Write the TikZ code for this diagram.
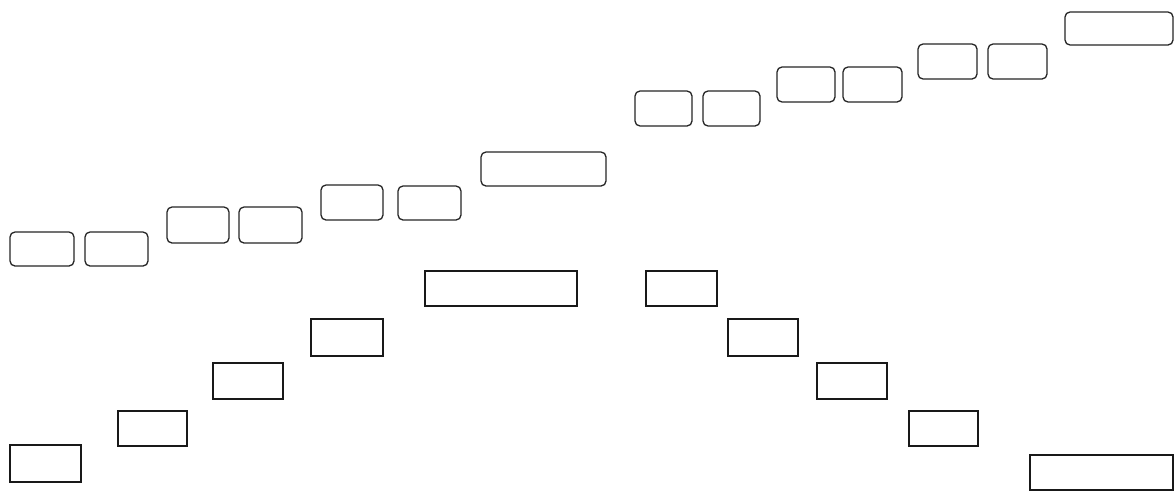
\documentclass[tikz,border=0pt]{standalone}
\begin{document}
\begin{tikzpicture}[x=1pt,y=-1pt,
  rbox/.style={draw=black!85,line width=1.3pt,rounded corners=5pt,inner sep=0pt,outer sep=0pt},
  sbox/.style={draw=black!90,line width=1.7pt,inner sep=0pt,outer sep=0pt}]
\useasboundingbox[fill=white] (0,0) rectangle (1175,491);
\clip (0,0) rectangle (1175,491);
% rounded boxes (upper staircase)
\node[rbox,minimum width=64pt,minimum height=34pt] (b1) at (42,249) {};
\node[rbox,minimum width=63pt,minimum height=34pt] (b2) at (116.5,249) {};
\node[rbox,minimum width=62pt,minimum height=36pt] (b3) at (198,225) {};
\node[rbox,minimum width=63pt,minimum height=36pt] (b4) at (270.5,225) {};
\node[rbox,minimum width=62pt,minimum height=35pt] (b5) at (352,202.5) {};
\node[rbox,minimum width=63pt,minimum height=34pt] (b6) at (429.5,203) {};
\node[rbox,minimum width=125pt,minimum height=34pt] (b7) at (543.5,169) {};
\node[rbox,minimum width=57pt,minimum height=35pt] (b8) at (663.5,108.5) {};
\node[rbox,minimum width=57pt,minimum height=35pt] (b9) at (731.5,108.5) {};
\node[rbox,minimum width=58pt,minimum height=35pt] (b10) at (806,84.5) {};
\node[rbox,minimum width=59pt,minimum height=35pt] (b11) at (872.5,84.5) {};
\node[rbox,minimum width=59pt,minimum height=35pt] (b12) at (947.5,61.5) {};
\node[rbox,minimum width=59pt,minimum height=35pt] (b13) at (1017.5,61.5) {};
\node[rbox,minimum width=108pt,minimum height=33pt] (b14) at (1119,28.5) {};
% sharp boxes (lower arch)
\node[sbox,minimum width=71pt,minimum height=37pt] (r1) at (45.5,463.5) {};
\node[sbox,minimum width=69pt,minimum height=35pt] (r2) at (152.5,428.5) {};
\node[sbox,minimum width=70pt,minimum height=36pt] (r3) at (248,381) {};
\node[sbox,minimum width=72pt,minimum height=37pt] (r4) at (347,337.5) {};
\node[sbox,minimum width=152pt,minimum height=35pt] (r5) at (501,288.5) {};
\node[sbox,minimum width=71pt,minimum height=35pt] (r6) at (681.5,288.5) {};
\node[sbox,minimum width=70pt,minimum height=37pt] (r7) at (763,337.5) {};
\node[sbox,minimum width=70pt,minimum height=36pt] (r8) at (852,381) {};
\node[sbox,minimum width=69pt,minimum height=35pt] (r9) at (943.5,428.5) {};
\node[sbox,minimum width=143pt,minimum height=35pt] (r10) at (1101.5,472.5) {};
\end{tikzpicture}
\end{document}
